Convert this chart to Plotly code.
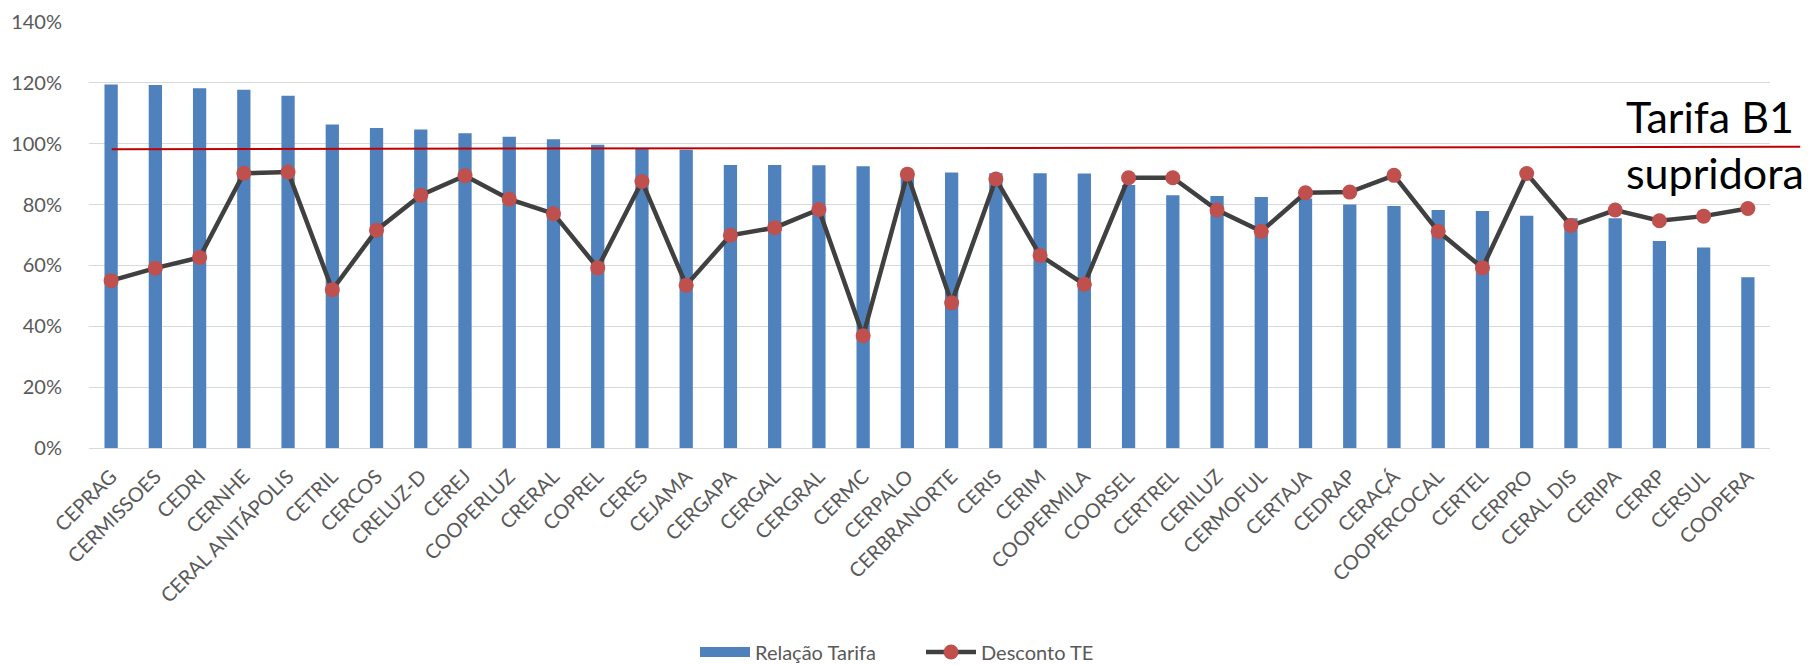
import plotly.graph_objects as go

categories = ["CEPRAG", "CERMISSOES", "CEDRI", "CERNHE", "CERAL ANITÁPOLIS", "CETRIL", "CERCOS",
              "CRELUZ-D", "CEREJ", "COOPERLUZ", "CRERAL", "COPREL", "CERES", "CEJAMA", "CERGAPA",
              "CERGAL", "CERGRAL", "CERMC", "CERPALO", "CERBRANORTE", "CERIS", "CERIM", "COOPERMILA",
              "COORSEL", "CERTREL", "CERILUZ", "CERMOFUL", "CERTAJA", "CEDRAP", "CERAÇÁ",
              "COOPERCOCAL", "CERTEL", "CERPRO", "CERAL DIS", "CERIPA", "CERRP", "CERSUL", "COOPERA"]

relacao_tarifa = [119.5, 119.3, 118.2, 117.7, 115.8, 106.3, 105.2, 104.7, 103.4, 102.3, 101.5, 99.7,
                  98.3, 98.0, 93.0, 93.0, 92.9, 92.6, 90.5, 90.5, 90.3, 90.3, 90.2, 86.4, 83.1, 82.8,
                  82.5, 82.0, 80.0, 79.5, 78.2, 77.9, 76.3, 75.5, 75.5, 68.0, 65.9, 56.1]

desconto_te = [55.0, 59.1, 62.6, 90.3, 90.7, 52.0, 71.6, 83.1, 89.5, 81.8, 77.0, 59.2,
               87.6, 53.5, 69.9, 72.4, 78.4, 36.9, 90.0, 47.7, 88.4, 63.3, 53.8, 88.8, 88.8, 78.2,
               71.2, 83.9, 84.1, 89.6, 71.2, 59.2, 90.2, 73.1, 78.2, 74.7, 76.2, 78.7]

y_ticks = [0, 20, 40, 60, 80, 100, 120, 140]
y_tick_labels = [f"{v}%" for v in y_ticks]
y_max = 140

# "Tarifa B1 supridora" reference line level (slightly tilted in the original drawing)
tarifa_b1_left = 98.2
tarifa_b1_right = 99.0

FONT = "Lato"
GRAY = "#595959"
BLUE = "#4F81BD"

fig = go.Figure()
fig.add_trace(go.Bar(
    x=categories, y=relacao_tarifa, name="Relação Tarifa",
    marker=dict(color=BLUE, line=dict(width=0)),
    showlegend=False, legendgroup="rel",
))
# legend-only entry so the key shows a wide rectangle like the original
fig.add_trace(go.Scatter(
    x=[None], y=[None], name="Relação Tarifa", mode="lines",
    line=dict(color=BLUE, width=12), legendgroup="rel",
))
fig.add_trace(go.Scatter(
    x=categories, y=desconto_te, name="Desconto TE", mode="lines+markers",
    line=dict(color="#404040", width=4.5),
    marker=dict(color="#C0504D", size=15),
))

fig.add_shape(type="line", xref="paper", yref="paper",
              x0=0.0135, x1=1.018,
              y0=tarifa_b1_left / y_max, y1=tarifa_b1_right / y_max,
              line=dict(color="#C00000", width=2))

fig.add_annotation(text="Tarifa B1", xref="paper", yref="paper", x=0.913, y=0.779,
                   xanchor="left", yanchor="middle", showarrow=False,
                   font=dict(family=FONT, size=43, color="black"))
fig.add_annotation(text="supridora", xref="paper", yref="paper", x=0.913, y=0.646,
                   xanchor="left", yanchor="middle", showarrow=False,
                   font=dict(family=FONT, size=43, color="black"))

# page body has an 8px default margin, so the figure is offset by 8px
fig.update_layout(
    width=1808, height=657,
    margin=dict(l=81, r=46, t=14, b=217, autoexpand=False),
    plot_bgcolor="white", paper_bgcolor="white",
    bargap=0.7,
    font=dict(family=FONT, color=GRAY, size=20),
    showlegend=True,
    legend=dict(orientation="h", x=0.3605, xanchor="left", y=-0.479, yanchor="middle",
                font=dict(size=20, color=GRAY), traceorder="normal", itemwidth=50,
                entrywidth=161, entrywidthmode="pixels"),
)
fig.update_xaxes(range=[-0.5, len(categories) - 0.5], automargin=False,
                 tickangle=-45, tickfont=dict(size=20, color=GRAY), showgrid=False,
                 showline=True, linecolor="#D9D9D9", linewidth=1, ticks="",
                 ticklabelstandoff=8)
fig.update_yaxes(range=[0, y_max], automargin=False, tickmode="array",
                 tickvals=y_ticks, ticktext=y_tick_labels,
                 showgrid=True, gridcolor="#D9D9D9", gridwidth=1, zeroline=False,
                 tickfont=dict(size=20, color=GRAY), ticklabelstandoff=26)

fig.write_html("out.html")
